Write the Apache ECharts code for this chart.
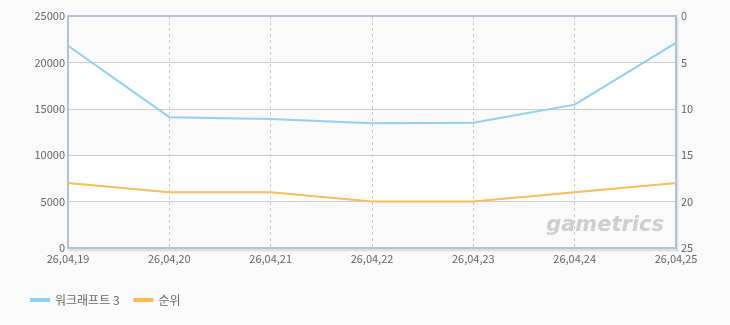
<!DOCTYPE html>
<html>
<head>
<meta charset="utf-8">
<script src="https://cdn.jsdelivr.net/npm/echarts@6/dist/echarts.min.js"></script>
<style>
html,body{margin:0;padding:0;background:#fafafa;}
#c{width:730px;height:325px;}
</style>
</head>
<body>
<div id="c"></div>
<script>
const categories = ['26,04,19','26,04,20','26,04,21','26,04,22','26,04,23','26,04,24','26,04,25'];
const warcraftValues = [21800, 14100, 13900, 13450, 13500, 15450, 22100];
const rankValues = [18, 19, 19, 20, 20, 19, 18];
const seriesNames = ['워크래프트 3', '순위'];

const font = '"Noto Sans CJK KR", "DejaVu Sans", sans-serif';
const borderLine = {color: '#b0c2d8', width: 2};
const shadowLine = {color: '#b0c2d8', width: 2, shadowColor: 'rgba(0,0,0,0.15)', shadowOffsetX: 1, shadowOffsetY: 2, shadowBlur: 2};
const chart = echarts.init(document.getElementById('c'), null, {renderer: 'canvas'});
chart.setOption({
  backgroundColor: '#fafafa',
  animation: false,
  grid: {
    left: 68, right: 54, top: 16, bottom: 77
  },
  legend: {
    left: 30, top: 294, padding: 0,
    itemWidth: 20, itemHeight: 4,
    itemGap: 14,
    icon: 'rect',
    textStyle: {color: '#666', fontSize: 12, fontFamily: font},
    data: seriesNames
  },
  xAxis: [
    {
      type: 'category',
      data: categories,
      boundaryGap: false,
      axisLine: {show: true, onZero: false, lineStyle: shadowLine},
      axisTick: {show: false},
      axisLabel: {color: '#666', fontSize: 11, fontFamily: font, margin: 5},
      splitLine: {show: true, lineStyle: {color: '#c8c8c8', type: [3,3], width: 1}}
    },
    {
      type: 'category',
      position: 'top',
      data: categories,
      boundaryGap: false,
      axisLine: {show: true, onZero: false, lineStyle: borderLine},
      axisTick: {show: false},
      axisLabel: {show: false},
      splitLine: {show: false}
    }
  ],
  yAxis: [
    {
      type: 'value', min: 0, max: 25000, interval: 5000,
      axisLine: {show: true, lineStyle: borderLine}, axisTick: {show: false},
      axisLabel: {color: '#666', fontSize: 11, fontFamily: font, margin: 3, formatter: v => String(v)},
      splitLine: {show: true, lineStyle: {color: '#cccccc', width: 1}},
      splitArea: {show: true, areaStyle: {color: ['#fafafa', '#ffffff']}}
    },
    {
      type: 'value', min: 0, max: 25, interval: 5, inverse: true,
      axisLine: {show: true, lineStyle: shadowLine}, axisTick: {show: false},
      axisLabel: {color: '#666', fontSize: 11, fontFamily: font, margin: 5},
      splitLine: {show: false}
    }
  ],
  graphic: [{
    type: 'text',
    right: 66, top: 215,
    z: 1,
    style: {
      text: 'gametrics',
      fill: '#cfcfcf',
      font: 'italic bold 21px "DejaVu Sans", sans-serif'
    }
  }],
  series: [
    {
      name: seriesNames[0], type: 'line', yAxisIndex: 0,
      data: warcraftValues,
      showSymbol: false, symbol: 'none',
      lineStyle: {color: '#92d0f2', width: 2},
      itemStyle: {color: '#92d0f2'},
      z: 3
    },
    {
      name: seriesNames[1], type: 'line', yAxisIndex: 1,
      data: rankValues,
      showSymbol: false, symbol: 'none',
      lineStyle: {color: '#fdbb5c', width: 2},
      itemStyle: {color: '#fdbb5c'},
      z: 3
    }
  ]
});
</script>
</body>
</html>
